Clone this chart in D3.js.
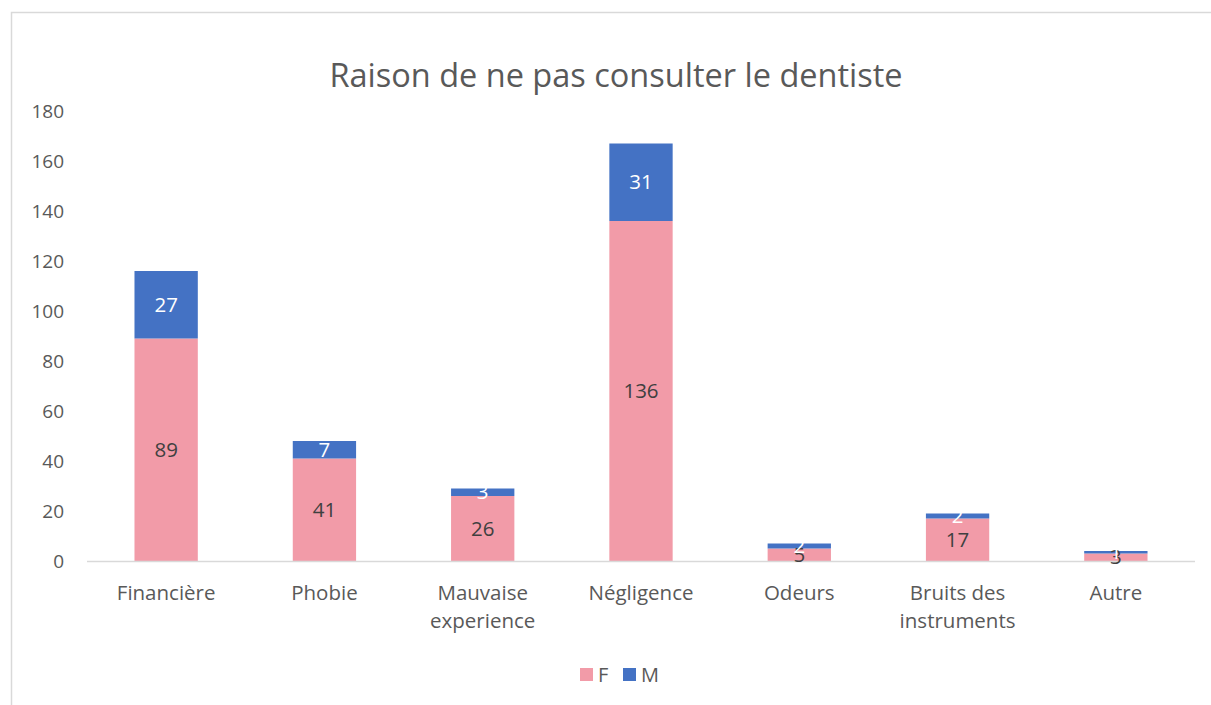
<!DOCTYPE html>
<html>
<head>
<meta charset="utf-8">
<script src="https://cdn.jsdelivr.net/npm/d3@7"></script>
<style>
  html, body { margin: 0; padding: 0; background: #ffffff; }
  svg { display: block; font-family: "Open Sans", "Noto Sans", sans-serif; }
</style>
</head>
<body>
<svg id="chart" width="1211" height="705"></svg>
<script>
// Reasons for not consulting the dentist, split by sex
const categories = ["Financière", "Phobie", "Mauvaise experience", "Négligence", "Odeurs", "Bruits des instruments", "Autre"];
const categoryLines = [["Financière"], ["Phobie"], ["Mauvaise", "experience"], ["Négligence"], ["Odeurs"], ["Bruits des", "instruments"], ["Autre"]];
const valuesF = [89, 41, 26, 136, 5, 17, 3];
const valuesM = [27, 7, 3, 31, 2, 2, 1];
const seriesNames = ["F", "M"];
const seriesColors = ["#f29ba8", "#4472c4"];
const labelColors = ["#404040", "#ffffff"];
const yTicks = [0, 20, 40, 60, 80, 100, 120, 140, 160, 180];

const svg = d3.select("#chart");

// outer chart frame
svg.append("rect")
  .attr("x", 11.5).attr("y", 12.5)
  .attr("width", 1250).attr("height", 760)
  .attr("fill", "none").attr("stroke", "#d9d9d9").attr("stroke-width", 1.5);

const plot = { left: 87, right: 1195, top: 111, bottom: 561 };

const x = d3.scaleBand()
  .domain(categories)
  .range([plot.left, plot.right])
  .paddingInner(0.6)
  .paddingOuter(0.3);

const y = d3.scaleLinear()
  .domain([0, 180])
  .range([plot.bottom, plot.top]);

// title
svg.append("text")
  .attr("x", 616).attr("y", 87)
  .attr("text-anchor", "middle")
  .attr("font-size", 32.5)
  .attr("fill", "#595959")
  .text("Raison de ne pas consulter le dentiste");

// y axis labels
const yAxis = d3.axisLeft(y).tickValues(yTicks).tickSize(0).tickPadding(0);
const yg = svg.append("g").attr("transform", `translate(64,0)`).call(yAxis);
yg.select(".domain").remove();
yg.selectAll("text")
  .attr("font-size", 19)
  .attr("fill", "#595959")
  .attr("font-family", "Open Sans, Noto Sans, sans-serif");

// stacked data
const rows = categories.map((c, i) => ({ cat: c, F: valuesF[i], M: valuesM[i] }));
const stack = d3.stack().keys(seriesNames)(rows);

const layers = svg.append("g").selectAll("g")
  .data(stack)
  .join("g")
  .attr("fill", (d, i) => seriesColors[i]);

layers.selectAll("rect")
  .data(d => d)
  .join("rect")
  .attr("x", d => x(d.data.cat))
  .attr("y", d => y(d[1]))
  .attr("width", x.bandwidth())
  .attr("height", d => y(d[0]) - y(d[1]));

// x axis line
svg.append("line")
  .attr("x1", plot.left).attr("x2", plot.right)
  .attr("y1", plot.bottom + 0.5).attr("y2", plot.bottom + 0.5)
  .attr("stroke", "#d9d9d9").attr("stroke-width", 1.5);

// data labels, centred in each segment
stack.forEach((layer, si) => {
  svg.append("g").selectAll("text")
    .data(layer)
    .join("text")
    .attr("x", d => x(d.data.cat) + x.bandwidth() / 2)
    .attr("y", d => (y(d[0]) + y(d[1])) / 2)
    .attr("dy", "0.35em")
    .attr("text-anchor", "middle")
    .attr("font-size", 20.5)
    .attr("fill", labelColors[si])
    .text(d => d[1] - d[0]);
});

// category labels
const xl = svg.append("g").selectAll("text")
  .data(categories)
  .join("text")
  .attr("x", d => x(d) + x.bandwidth() / 2)
  .attr("y", 600)
  .attr("text-anchor", "middle")
  .attr("font-size", 20.5)
  .attr("fill", "#595959");
xl.each(function (d, i) {
  d3.select(this).selectAll("tspan")
    .data(categoryLines[i])
    .join("tspan")
    .attr("x", x(d) + x.bandwidth() / 2)
    .attr("dy", (t, j) => j === 0 ? 0 : 28)
    .text(t => t);
});

// legend
const legendItems = [{ name: "F", x: 580 }, { name: "M", x: 623 }];
const lg = svg.append("g").selectAll("g")
  .data(seriesNames)
  .join("g")
  .attr("transform", (d, i) => `translate(${legendItems[i].x},668)`);
lg.append("rect")
  .attr("width", 13).attr("height", 13)
  .attr("fill", (d, i) => seriesColors[i]);
lg.append("text")
  .attr("x", 18).attr("y", 6.5).attr("dy", "0.36em")
  .attr("font-size", 20)
  .attr("fill", "#595959")
  .text(d => d);
</script>
</body>
</html>
